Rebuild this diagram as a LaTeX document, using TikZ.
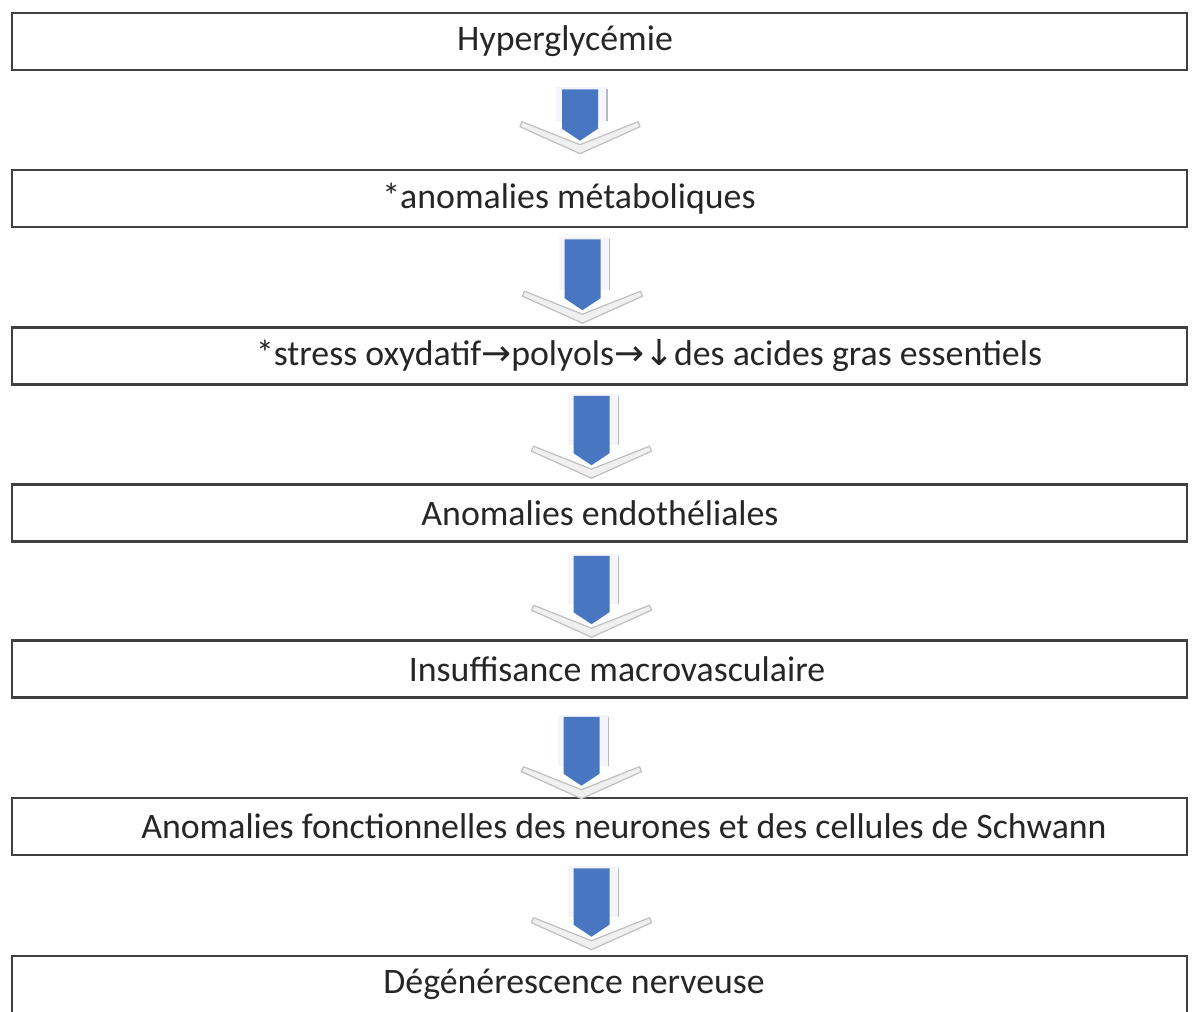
\documentclass[tikz,border=0pt]{standalone}
\usepackage{fontspec}
\setmainfont{Carlito}
\newfontfamily\symfont{DejaVu Sans}
\usetikzlibrary{calc}
\definecolor{shaftblue}{RGB}{72,118,192}
\definecolor{boxline}{RGB}{64,64,64}
\tikzset{
  stage/.style={draw=boxline, line width=1.3pt, minimum width=587.5pt,
    minimum height=28.5pt, inner sep=0pt},
  stagetext/.style={font=\fontsize{17.9}{21}\selectfont, text=black!85, inner sep=0pt},
  chevron/.style={fill=gray!12, draw=gray!50, line width=0.6pt, line join=round},
  shaftframe/.style={fill=blue!4}
}
\begin{document}
\begin{tikzpicture}[x=0.5pt,y=-0.5pt]
\useasboundingbox (0,0) rectangle (1198,1011);

% boxes
\node[stage] (b1) at (599.5,41.5) {};
\node[stage] (b2) at (599.5,198.5) {};
\node[stage] (b3) at (599.5,356) {};
\node[stage] (b4) at (599.5,513) {};
\node[stage] (b5) at (599.5,669) {};
\node[stage] (b6) at (599.5,826.5) {};
\node[stage] (b7) at (599.5,984.5) {};

% texts
\node[stagetext] (t1) at (565,41.5) {Hyperglycémie};
\node[stagetext] (t2) at (569,198.5) {*anomalies métaboliques};
\node[stagetext] (t3) at (649,356) {*stress oxydatif{\symfont →}polyols{\symfont →↓}des acides gras essentiels};
\node[stagetext] (t4) at (600,513) {Anomalies endothéliales};
\node[stagetext] (t5) at (617,669) {Insuffisance macrovasculaire};
\node[stagetext] (t6) at (624,826.5) {Anomalies fonctionnelles des neurones et des cellules de Schwann};
\node[stagetext] (t7) at (574,984.5) {Dégénérescence nerveuse};

% arrows between boxes
\foreach \up/\down/\dx/\ta/\sh in {b1/b2/-19.5/18/-10, b2/b3/-17/11/2, b3/b4/-8/10/0,
    b4/b5/-8/13/3, b5/b6/-18/18/7, b6/b7/-8/12/0} {
  \coordinate (s) at ($(\up.south)+(\dx,\ta)$);
  \coordinate (e) at ($(\down.north)+(\dx,\sh)$);
  \fill[shaftframe] ($(s)+(-24,-2)$) rectangle ($(e)+(27,-38)$);
  \draw[gray!55, line width=0.8pt] ($(s)+(27,0)$) -- ($(e)+(27,-38)$);
  \filldraw[chevron] ($(e)+(-58,-37)$) -- ($(e)+(0,-14)$) -- ($(e)+(58,-37)$)
    -- ($(e)+(60,-32)$) -- ($(e)+(0,-5)$) -- ($(e)+(-60,-32)$) -- cycle;
  \fill[shaftblue] ($(s)+(-18,0)$) -- ($(s)+(18,0)$) -- ($(e)+(18,-30)$)
    -- ($(e)+(0,-18)$) -- ($(e)+(-18,-30)$) -- cycle;
}
\end{tikzpicture}
\end{document}
